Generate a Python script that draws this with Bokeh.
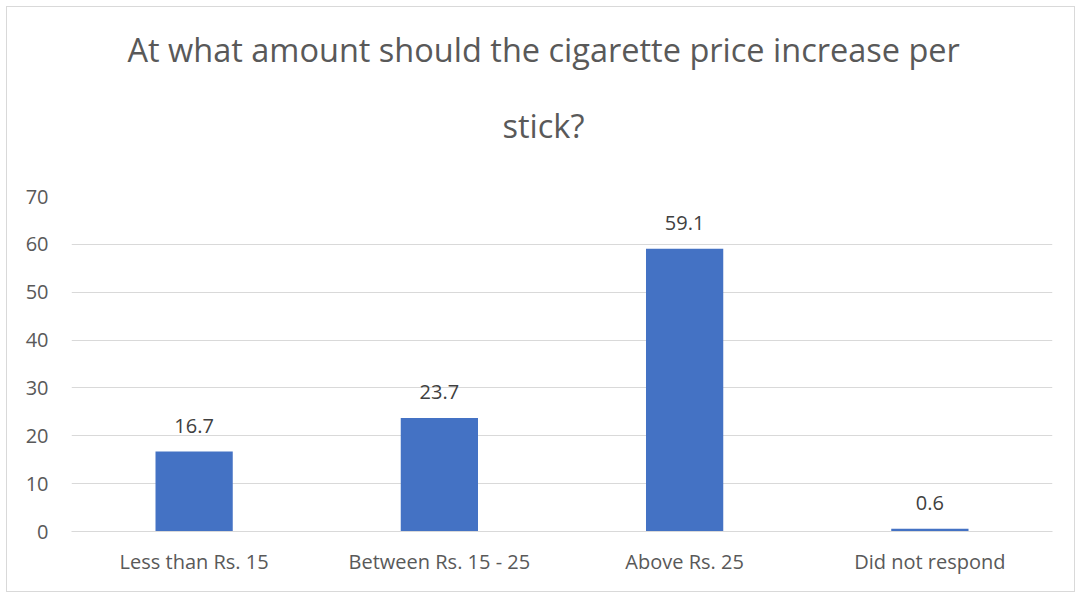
from bokeh.plotting import figure
from bokeh.models import ColumnDataSource, LabelSet, Range1d, Title, SingleIntervalTicker
from bokeh.core.properties import value
from bokeh.embed import file_html
from bokeh.resources import INLINE

categories = ["Less than Rs. 15", "Between Rs. 15 - 25", "Above Rs. 25", "Did not respond"]
values = [16.7, 23.7, 59.1, 0.6]
labels = ["16.7", "23.7", "59.1", "0.6"]
title_lines = ["At what amount should the cigarette price increase per", "stick?"]

FONT = "Open Sans"
src = ColumnDataSource(data=dict(cat=categories, val=values, lab=labels))

p = figure(x_range=categories, y_range=Range1d(0, 70), width=1069, height=586,
           output_backend="svg", toolbar_location=None,
           min_border_left=64, min_border_right=24, min_border_top=189, min_border_bottom=62,
           styles={"border": "1px solid #d9d9d9", "margin-left": "6px", "margin-top": "6px"})

p.title.text = title_lines[0]
p.title.align = "left"
p.title.offset = 56
p.title.standoff = -40
p.title.text_font = FONT
p.title.text_font_size = "32.5px"
p.title.text_font_style = "normal"
p.title.text_color = "#595959"
p.add_layout(Title(text=title_lines[1], align="left", offset=431, standoff=98,
                   text_font=FONT, text_font_size="32.5px", text_font_style="normal",
                   text_color="#595959"), "above")

p.vbar(x="cat", top="val", width=0.315, source=src, color="#4472C4", line_color=None)

p.add_layout(LabelSet(x="cat", y="val", text="lab", source=src, text_align="center",
                      text_baseline="middle", y_offset=26, text_font_size="20px",
                      text_color="#404040", text_font=value(FONT)))

p.outline_line_color = None
p.xgrid.grid_line_color = None
p.ygrid.grid_line_color = "#d9d9d9"
p.ygrid.grid_line_width = 1
p.yaxis.ticker = SingleIntervalTicker(interval=10)
p.yaxis.axis_line_color = None
p.yaxis.major_tick_line_color = None
p.yaxis.minor_tick_line_color = None
p.yaxis.major_label_text_font = FONT
p.yaxis.major_label_text_font_size = "20px"
p.yaxis.major_label_text_color = "#595959"
p.yaxis.major_label_standoff = 17
p.xaxis.axis_line_color = "#d9d9d9"
p.xaxis.major_tick_line_color = None
p.xaxis.minor_tick_line_color = None
p.xaxis.major_label_text_font = FONT
p.xaxis.major_label_text_font_size = "20px"
p.xaxis.major_label_text_color = "#595959"
p.xaxis.major_label_standoff = 10
p.x_range.range_padding = 0

open("out.html", "w").write(file_html(p, INLINE))
